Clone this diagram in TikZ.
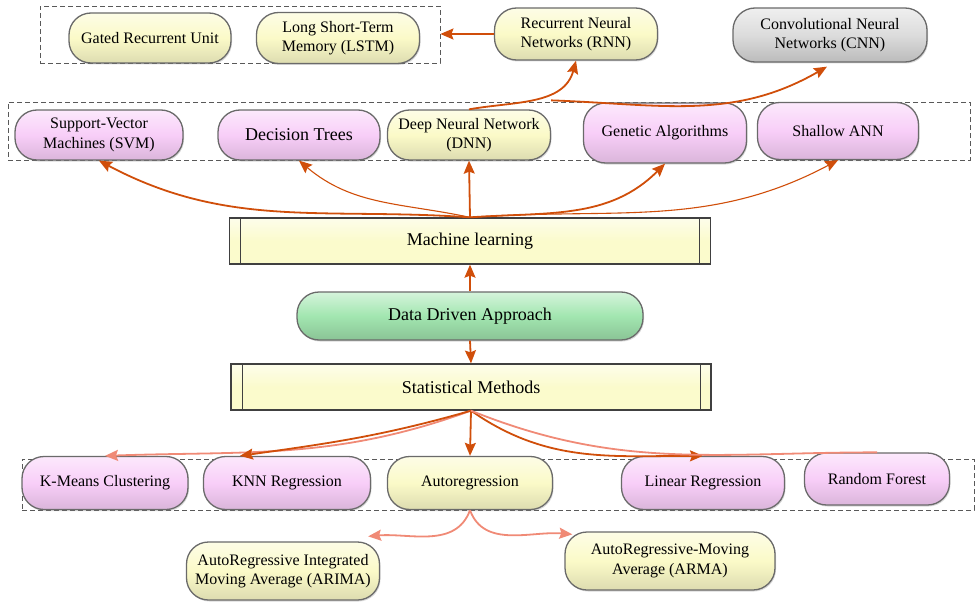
\documentclass[tikz,border=0pt]{standalone}
\usepackage{fontspec}
\setmainfont{Liberation Serif}
\usepackage{tikz}
\usetikzlibrary{
  arrows.meta,
  shadows,
  positioning
}
\definecolor{pillyellow}{HTML}{FBFAC8}
\definecolor{pillpink}{HTML}{F8CEF8}
\definecolor{pillgreen}{HTML}{A2E6B0}
\definecolor{pillgray}{HTML}{DCDCDC}
\definecolor{procyellow}{HTML}{FBFBCC}
\definecolor{linkdark}{HTML}{D04E0A}
\definecolor{linklight}{HTML}{F08A76}
\definecolor{edgegray}{HTML}{6A6A6A}
\tikzstyle{pill} = [
  rectangle, rounded corners=22pt, draw=edgegray, line width=1.3pt,
  align=center, inner sep=0pt, font=\fontsize{16}{19.5}\selectfont,
  drop shadow={shadow xshift=1pt, shadow yshift=-1.5pt, opacity=0.3}
]
\tikzstyle{yellowpill} = [pill, top color=pillyellow!45!white, bottom color=pillyellow!88!black, middle color=pillyellow]
\tikzstyle{pinkpill} = [pill, top color=pillpink!45!white, bottom color=pillpink!88!black, middle color=pillpink]
\tikzstyle{greenpill} = [pill, top color=pillgreen!45!white, bottom color=pillgreen!85!black, middle color=pillgreen]
\tikzstyle{graypill} = [pill, top color=pillgray!45!white, bottom color=pillgray!85!black, middle color=pillgray]
\tikzstyle{bigtext} = [font=\fontsize{18}{21}\selectfont]
\tikzstyle{procbox} = [
  rectangle, draw=black!75, line width=1.3pt, inner sep=0pt,
  top color=procyellow!40!white, bottom color=procyellow, middle color=procyellow,
  font=\fontsize{18}{21}\selectfont,
  path picture={
    \draw[black!75, line width=1pt]
      ([xshift=11pt]path picture bounding box.north west) --
      ([xshift=11pt]path picture bounding box.south west);
    \draw[black!75, line width=1pt]
      ([xshift=-11pt]path picture bounding box.north east) --
      ([xshift=-11pt]path picture bounding box.south east);
  }
]
\tikzstyle{groupbox} = [rectangle, draw=black!65, dash pattern=on 5pt off 3pt, line width=0.8pt, inner sep=0pt]
\tikzstyle{darklink} = [-{Stealth[length=13pt,width=11pt,inset=2pt]}, draw=linkdark, line width=1.8pt]
\tikzstyle{thinlink} = [darklink, line width=1.1pt]
\tikzstyle{lightlink} = [-{Stealth[length=13pt,width=11pt,inset=2pt]}, draw=linklight, line width=1.8pt]

\begin{document}
\begin{tikzpicture}[x=1pt, y=1pt]
\useasboundingbox (0,0) rectangle (975,-602);

% --- Groups ---
\node[groupbox, minimum width=400, minimum height=57] (rnngroup) at (240,-34.5) {};
\node[groupbox, minimum width=962, minimum height=58] (mlgroup) at (489,-131) {};
\node[groupbox, minimum width=952, minimum height=51] (statgroup) at (498,-484.5) {};

% --- Nodes ---
\node[yellowpill, minimum width=162, minimum height=50] (gru) at (150,-38) {Gated Recurrent Unit};
\node[yellowpill, minimum width=163, minimum height=51] (lstm) at (338,-38) {Long Short-Term\\Memory (LSTM)};
\node[yellowpill, minimum width=163, minimum height=52] (rnn) at (576,-34) {Recurrent Neural\\Networks (RNN)};
\node[graypill, minimum width=194, minimum height=54] (cnn) at (830,-35) {Convolutional Neural\\Networks (CNN)};

\node[pinkpill, minimum width=168, minimum height=50] (svm) at (99,-135) {Support-Vector\\Machines (SVM)};
\node[pinkpill, bigtext, minimum width=162, minimum height=50] (dtree) at (299,-135) {Decision Trees};
\node[yellowpill, minimum width=163, minimum height=50] (dnn) at (469,-135) {Deep Neural Network\\(DNN)};
\node[pinkpill, minimum width=163, minimum height=60] (genetic) at (665,-133) {Genetic Algorithms};
\node[pinkpill, minimum width=161, minimum height=57] (shallow) at (838,-131) {Shallow ANN};

\node[procbox, minimum width=481, minimum height=46] (ml) at (470,-241) {Machine learning};
\node[greenpill, bigtext, minimum width=346, minimum height=48] (dda) at (470,-316) {Data Driven Approach};
\node[procbox, minimum width=480, minimum height=46] (stat) at (471,-387) {Statistical Methods};

\node[pinkpill, minimum width=166, minimum height=53] (kmeans) at (105,-483) {K-Means Clustering};
\node[pinkpill, minimum width=167, minimum height=53] (knn) at (287,-483) {KNN Regression};
\node[yellowpill, minimum width=165, minimum height=53] (autoreg) at (470,-483) {Autoregression};
\node[pinkpill, minimum width=163, minimum height=53] (linreg) at (703,-483) {Linear Regression};
\node[pinkpill, minimum width=145, minimum height=52] (forest) at (877,-479) {Random Forest};

\node[yellowpill, minimum width=193, minimum height=58] (arima) at (283,-571) {AutoRegressive Integrated\\Moving Average (ARIMA)};
\node[yellowpill, minimum width=210, minimum height=58] (arma) at (670,-561) {AutoRegressive-Moving\\Average (ARMA)};

% --- Arrows ---
\draw[darklink] (rnn.west) -- (rnn.west -| rnngroup.east);
\draw[darklink] (dnn.north) to[out=10, in=-105] (rnn.south);
\draw[darklink] ([yshift=9pt]dnn.north east) to[out=-2, in=-150] ([xshift=-3pt,yshift=-4pt]cnn.south);

\draw[darklink] (ml.north) to[out=176, in=-28] (svm.south);
\draw[thinlink] (ml.north) to[out=168, in=-40] (dtree.south);
\draw[darklink] (ml.north) -- (dnn.south);
\draw[darklink] (ml.north) to[out=4, in=-135] (genetic.south);
\draw[thinlink] (ml.north) to[out=4, in=-152] (shallow.south);

\draw[darklink] (dda.north) -- (ml.south);
\draw[darklink] (dda.south) -- (stat.north);

\draw[lightlink] (stat.south) to[out=200, in=2] (kmeans.north);
\draw[darklink] (stat.south) to[out=196, in=8] (knn.150);
\draw[darklink] (stat.south) -- (autoreg.north);
\draw[darklink] (stat.south) to[out=-35, in=180] (linreg.north);
\draw[draw=linklight, line width=1.8pt] (stat.south) to[out=-22, in=180] (forest.north);

\draw[lightlink] (autoreg.south) to[out=-110, in=5] ([xshift=-12pt,yshift=5pt]arima.north east);
\draw[lightlink] (autoreg.south) to[out=-70, in=175] ([xshift=8pt,yshift=-3pt]arma.north west);

\end{tikzpicture}
\end{document}
